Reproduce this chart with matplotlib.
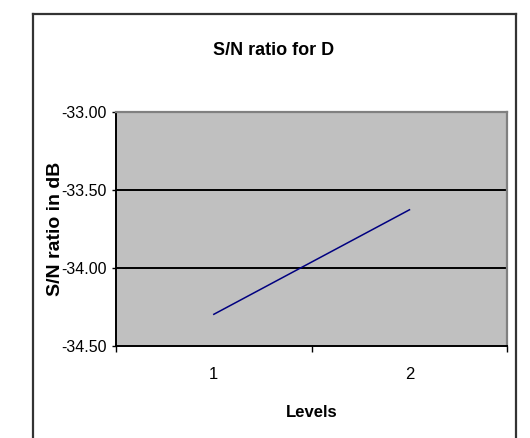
import matplotlib
matplotlib.use("Agg")
import matplotlib.pyplot as plt
from matplotlib.lines import Line2D
from matplotlib.ticker import FixedLocator, FixedFormatter

levels = [1, 2]
sn_ratio = [-34.30, -33.63]
y_ticks = [-34.50, -34.00, -33.50, -33.00]

plt.rcParams['font.family'] = ['Liberation Sans', 'DejaVu Sans']

fig = plt.figure(figsize=(5.30, 4.39), dpi=100)
fig.patch.set_facecolor("white")

# chart area border (bottom edge falls outside the picture)
fx0, fx1, fy1 = 32.7 / 530, 516 / 530, 1 - 15 / 439
for xs, ys in [([fx0, fx0], [0, fy1]), ([fx0, fx1], [fy1, fy1]), ([fx1, fx1], [fy1, 0])]:
    fig.add_artist(Line2D(xs, ys, transform=fig.transFigure, color="#333333", lw=1.6))

ax = fig.add_axes([116 / 530, 1 - 346.5 / 439, (507.3 - 116) / 530, (346.5 - 112.5) / 439])
ax.set_facecolor("#C0C0C0")

ax.plot(levels, sn_ratio, color="#000080", lw=1.1, zorder=3)

ax.set_xlim(0.5, 2.5)
ax.set_ylim(-34.5, -33.0)
ax.set_yticks(y_ticks)
ax.set_yticklabels(["%.2f" % v for v in y_ticks])
for v in y_ticks[1:-1]:
    ax.axhline(v, color="black", lw=1.4, zorder=2)

ax.xaxis.set_major_locator(FixedLocator(levels))
ax.xaxis.set_major_formatter(FixedFormatter([str(v) for v in levels]))
ax.xaxis.set_minor_locator(FixedLocator([0.5, 1.5, 2.5]))
ax.tick_params(axis="x", which="major", length=0, pad=15, labelsize=12)
ax.tick_params(axis="x", which="minor", length=4.5, width=1.0, direction="out")
ax.tick_params(axis="y", length=3.2, width=1.0, direction="out", pad=3.5, labelsize=11.5)

ax.spines["left"].set_color("black")
ax.spines["bottom"].set_color("black")
ax.spines["left"].set_linewidth(1.4)
ax.spines["bottom"].set_linewidth(1.4)
ax.spines["top"].set_color("#808080")
ax.spines["right"].set_color("#808080")
ax.spines["top"].set_linewidth(1.6)
ax.spines["right"].set_linewidth(1.6)

fig.text(273.9 / 530, 1 - 55 / 439, "S/N ratio for D", ha="center", va="baseline",
         fontsize=13, fontweight="bold")
fig.text(55.5 / 530, 1 - 229 / 439, "S/N ratio in dB", ha="center", va="center",
         rotation=90, fontsize=14, fontweight="bold")
fig.text(311.7 / 530, 1 - 413 / 439, "Levels", ha="center", va="center",
         fontsize=12, fontweight="bold")

fig.savefig("out.png", dpi=100)
